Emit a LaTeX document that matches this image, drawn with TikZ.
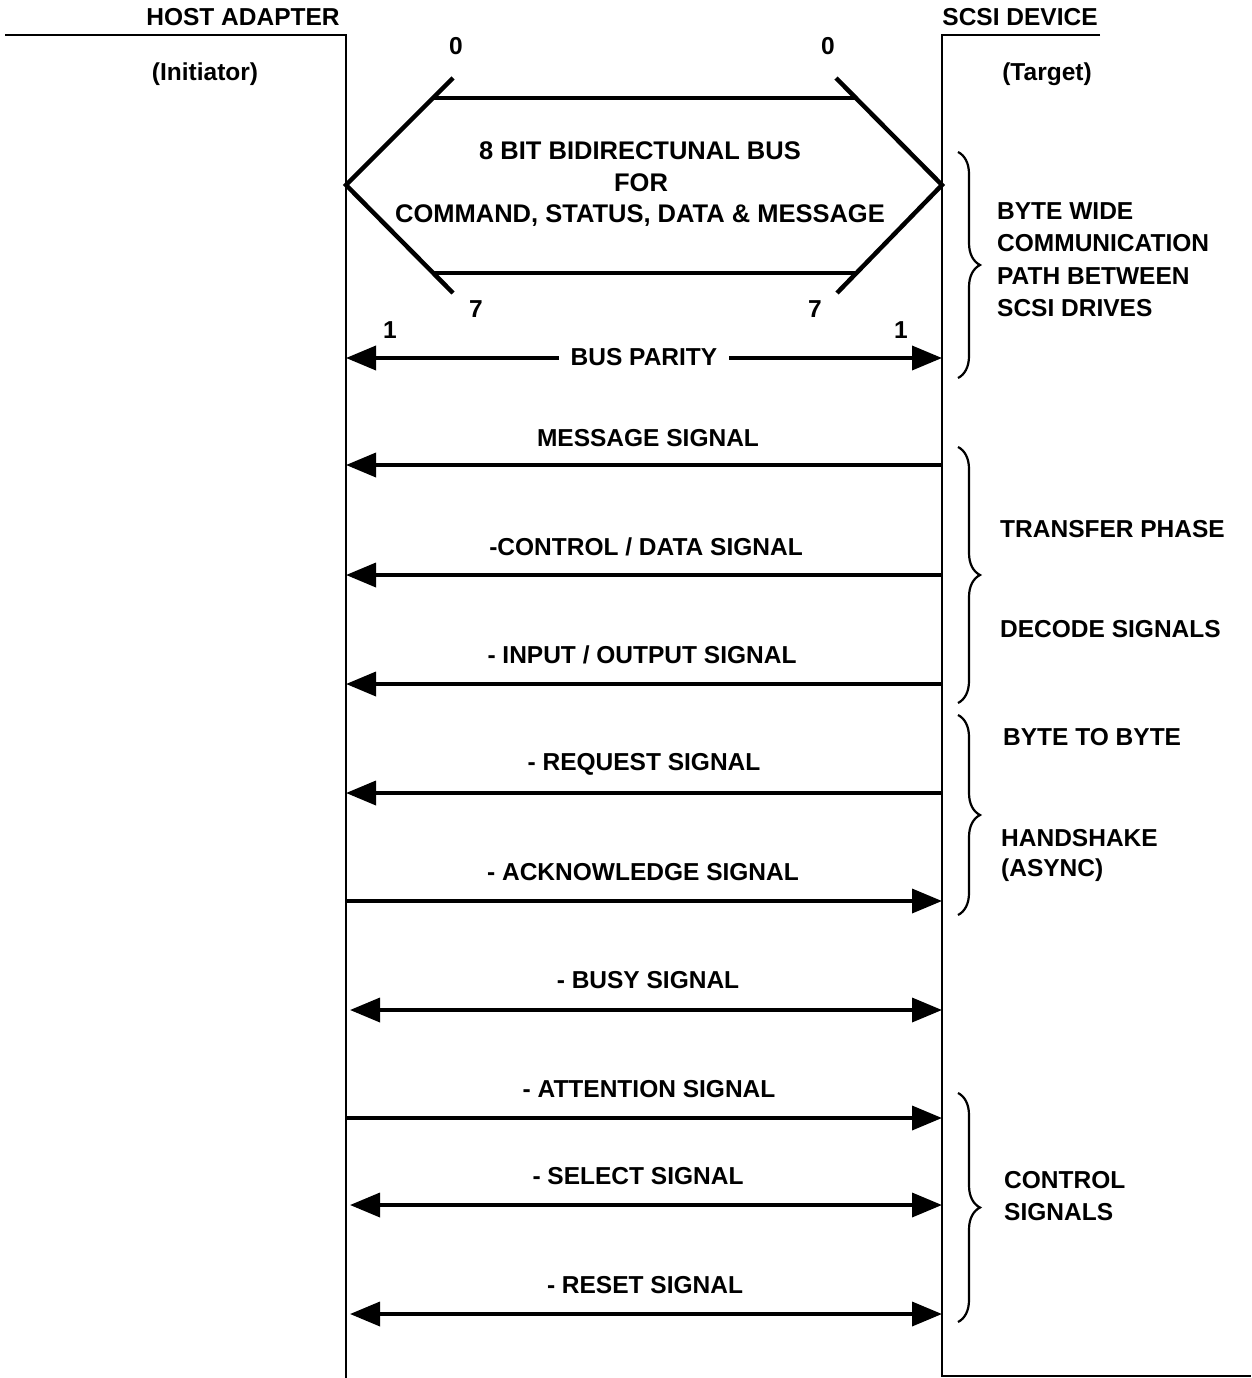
\documentclass[tikz,border=0pt]{standalone}
\usepackage{fontspec}
\setmainfont{Liberation Sans}
\usetikzlibrary{arrows.meta,decorations.pathreplacing}
\begin{document}
\begin{tikzpicture}[x=1pt,y=-1pt,
  lbl/.style={font=\fontsize{24.5}{28}\selectfont\bfseries, inner sep=0pt},
  buslbl/.style={font=\fontsize{25.5}{29}\selectfont\bfseries, inner sep=0pt},
  rlbl/.style={lbl, anchor=west},
  frame/.style={line width=1.6pt},
  busline/.style={line width=4.5pt},
  sig/.style={line width=3.6pt, -{Triangle[length=30pt,width=24pt]}},
  dsig/.style={line width=3.6pt, {Triangle[length=30pt,width=24pt]}-{Triangle[length=30pt,width=24pt]}},
  brc/.style={line width=2.2pt, decorate, decoration={brace, amplitude=22pt}}]
\useasboundingbox (0,0) rectangle (1251,1378);
% frames
\draw[frame] (5,35) -- (346,35) -- (346,1378);
\draw[frame] (1100,35) -- (942,35) -- (942,1376) -- (1251,1376);
\node[lbl] (host) at (243,17) {HOST ADAPTER};
\node[lbl] (init) at (205,74) {(Initiator)};
\node[lbl] (scsi) at (1020,17) {SCSI DEVICE};
\node[lbl] (targ) at (1047,74) {(Target)};
% bus hexagon
\coordinate (tipL) at (346,185);
\coordinate (tipR) at (942,185);
\coordinate (ulA) at (453,78);
\coordinate (ulB) at (432,98);
\coordinate (urB) at (855,98);
\coordinate (urA) at (836,78);
\coordinate (llA) at (453,293);
\coordinate (llB) at (433,273);
\coordinate (lrB) at (855,273);
\coordinate (lrA) at (837,293);
\draw[busline] (ulA) -- (tipL) -- (llA);
\draw[busline] (urA) -- (tipR) -- (lrA);
\draw[busline] (ulB) -- (urB);
\draw[busline] (llB) -- (lrB);
\node[lbl] (z1) at (456,46) {0};
\node[lbl] (z2) at (828,46) {0};
\node[lbl] (s1) at (476,309) {7};
\node[lbl] (s2) at (815,309) {7};
\node[buslbl] (b1) at (640,151) {8 BIT BIDIRECTUNAL BUS};
\node[buslbl] (b2) at (641,183) {FOR};
\node[buslbl] (b3) at (640,216) {COMMAND, STATUS, DATA \& MESSAGE};
% bus parity
\node[lbl] (o1) at (390,330) {1};
\node[lbl] (o2) at (901,330) {1};
\node[lbl] (par) at (644,357) {BUS PARITY};
\coordinate (pL) at (346,358);
\coordinate (pR) at (942,358);
\draw[sig] ([xshift=-12pt]par.west |- pL) -- (pL);
\draw[sig] ([xshift=12pt]par.east |- pR) -- (pR);
% signals
\node[lbl] (msg) at (648,438) {MESSAGE SIGNAL};
\coordinate (msgL) at (346,465); \coordinate (msgR) at (942,465);
\draw[sig] (msgR) -- (msgL);
\node[lbl] (cd) at (646,547) {-CONTROL / DATA SIGNAL};
\coordinate (cdL) at (346,575); \coordinate (cdR) at (942,575);
\draw[sig] (cdR) -- (cdL);
\node[lbl] (io) at (642,655) {- INPUT / OUTPUT SIGNAL};
\coordinate (ioL) at (346,684); \coordinate (ioR) at (942,684);
\draw[sig] (ioR) -- (ioL);
\node[lbl] (req) at (644,764) {- REQUEST SIGNAL};
\coordinate (reqL) at (346,793); \coordinate (reqR) at (942,793);
\draw[sig] (reqR) -- (reqL);
\node[lbl] (ack) at (643,872) {- ACKNOWLEDGE SIGNAL};
\coordinate (ackL) at (346,901); \coordinate (ackR) at (942,901);
\draw[sig] (ackL) -- (ackR);
\node[lbl] (bsy) at (648,980) {- BUSY SIGNAL};
\coordinate (bsyL) at (350,1010); \coordinate (bsyR) at (942,1010);
\draw[dsig] (bsyL) -- (bsyR);
\node[lbl] (atn) at (649,1089) {- ATTENTION SIGNAL};
\coordinate (atnL) at (346,1118); \coordinate (atnR) at (942,1118);
\draw[sig] (atnL) -- (atnR);
\node[lbl] (sel) at (638,1176) {- SELECT SIGNAL};
\coordinate (selL) at (350,1205); \coordinate (selR) at (942,1205);
\draw[dsig] (selL) -- (selR);
\node[lbl] (rst) at (645,1285) {- RESET SIGNAL};
\coordinate (rstL) at (350,1314); \coordinate (rstR) at (942,1314);
\draw[dsig] (rstL) -- (rstR);
% braces
\coordinate (br1a) at (958,152); \coordinate (br1b) at (958,378);
\draw[brc] (br1a) -- (br1b);
\coordinate (br2a) at (958,447); \coordinate (br2b) at (958,703);
\draw[brc] (br2a) -- (br2b);
\coordinate (br3a) at (958,715); \coordinate (br3b) at (958,915);
\draw[brc] (br3a) -- (br3b);
\coordinate (br4a) at (958,1093); \coordinate (br4b) at (958,1322);
\draw[brc] (br4a) -- (br4b);
% brace labels
\node[rlbl] (g1a) at (997,211) {BYTE WIDE};
\node[rlbl] (g1b) at (997,243) {COMMUNICATION};
\node[rlbl] (g1c) at (997,276) {PATH BETWEEN};
\node[rlbl] (g1d) at (997,308) {SCSI DRIVES};
\node[rlbl] (g2a) at (1000,529) {TRANSFER PHASE};
\node[rlbl] (g2b) at (1000,629) {DECODE SIGNALS};
\node[rlbl] (g3a) at (1003,737) {BYTE TO BYTE};
\node[rlbl] (g3b) at (1001,838) {HANDSHAKE};
\node[rlbl] (g3c) at (1001,870) {(ASYNC)};
\node[rlbl] (g4a) at (1004,1180) {CONTROL};
\node[rlbl] (g4b) at (1004,1212) {SIGNALS};
\end{tikzpicture}
\end{document}
